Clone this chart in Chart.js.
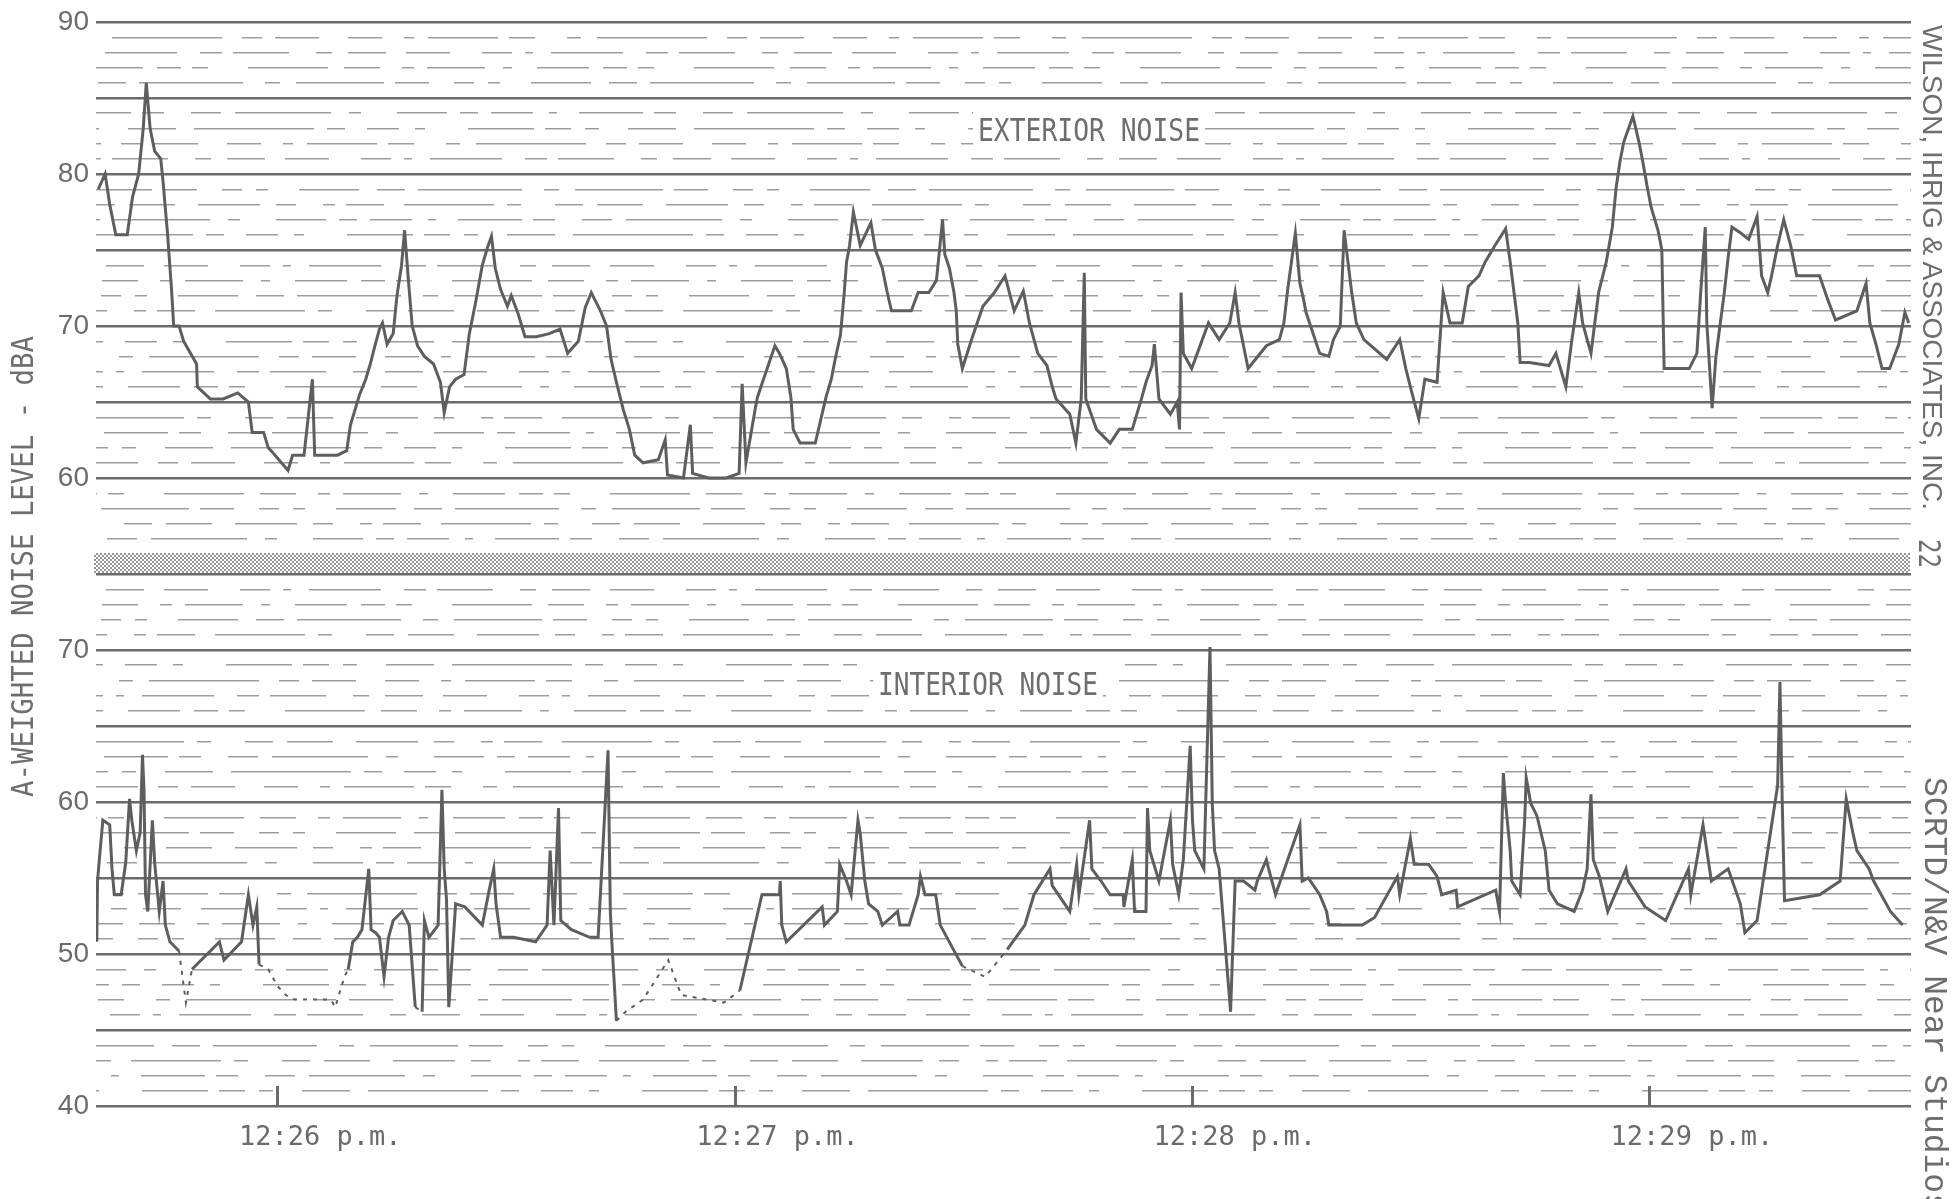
<!DOCTYPE html>
<html>
<head>
<meta charset="utf-8">
<title>A-Weighted Noise Level - Exterior / Interior</title>
<script src="https://cdn.jsdelivr.net/npm/chart.js"></script>
<style>
  html, body { margin: 0; padding: 0; background: #fff; }
  #page { position: relative; width: 1952px; height: 1199px; overflow: hidden; background: #fff; }
  .panel { position: absolute; left: 0; width: 1952px; }
  #extWrap { top: 0; height: 560px; }
  #intWrap { top: 560px; height: 639px; }
  .band {
    position: absolute; left: 94px; top: 553px; width: 1816px; height: 20px;
    background: repeating-conic-gradient(#959595 0 25%, #ffffff 0 50%) 0 0 / 4px 4px;
  }
  .note {
    position: absolute; white-space: nowrap; line-height: 1; color: #6e6e6e;
    transform-origin: 0 0;
  }
  .boxed { background: #fff; box-shadow: 0 0 0 6px #fff; }
</style>
</head>
<body>
<div id="page">
  <div class="panel" id="extWrap"><canvas id="extChart"></canvas></div>
  <div class="band"></div>
  <div class="panel" id="intWrap"><canvas id="intChart"></canvas></div>

  <div class="note" data-rot="-90" data-len="461"
       style="left:8px; top:797px; font-family:'DejaVu Sans Mono'; font-size:30px;">A-WEIGHTED NOISE LEVEL - dBA</div>
  <div class="note" data-rot="90" data-len="485"
       style="left:1946px; top:25px; font-family:'Liberation Sans'; font-size:28px;">WILSON, IHRIG &amp; ASSOCIATES, INC.</div>
  <div class="note" data-rot="90" data-len="29"
       style="left:1944px; top:539px; font-family:'DejaVu Sans Mono'; font-size:30px;">22</div>
  <div class="note" data-rot="90" data-len="436"
       style="left:1950px; top:777px; font-family:'Liberation Mono'; font-size:33px;">SCRTD/N&amp;V Near Studios</div>
  <div class="note boxed" data-rot="0" data-len="222"
       style="left:978px; top:114px; font-family:'DejaVu Sans Mono'; font-size:32px;">EXTERIOR NOISE</div>
  <div class="note boxed" data-rot="0" data-len="220"
       style="left:878px; top:668px; font-family:'DejaVu Sans Mono'; font-size:32px;">INTERIOR NOISE</div>
</div>

<script>
// time axis: seconds after 12:25:00 p.m.
const timeTicks = [60, 120, 180, 240];
const timeLabels = ["12:26 p.m.", "12:27 p.m.", "12:28 p.m.", "12:29 p.m."];
const extLabels = [60, 70, 80, 90];
const intLabels = [40, 50, 60, 70];

// exterior microphone trace (dBA)
const extTime = [
  36.5, 37.4, 38.0, 38.8, 40.3, 41.0, 41.8, 42.4, 42.8, 43.3,
  43.9, 44.7, 45.0, 45.6, 46.1, 46.4, 47.1, 47.7, 48.6, 49.4,
  49.5, 51.2, 52.9, 54.8, 56.2, 56.7, 58.2, 58.8, 59.7, 61.4,
  62.0, 63.5, 64.6, 64.9, 65.8, 67.9, 69.1, 69.6, 70.2, 70.8,
  71.6, 72.2, 72.7, 73.4, 73.8, 74.4, 75.2, 75.7, 76.3, 76.7,
  77.2, 77.7, 78.4, 79.3, 80.5, 81.4, 81.9, 82.6, 83.4, 84.5,
  85.2, 86.0, 86.9, 87.6, 88.1, 88.6, 89.3, 90.2, 90.7, 91.6,
  92.5, 94.0, 95.7, 97.1, 98.1, 99.5, 100.4, 101.2, 102.4, 103.2,
  103.8, 104.5, 105.4, 106.2, 106.9, 108.0, 110.0, 110.9, 111.2, 113.3,
  114.2, 114.5, 116.6, 118.9, 120.6, 121.0, 121.5, 122.7, 123.0, 123.6,
  125.3, 125.9, 126.8, 127.4, 127.7, 128.6, 130.6, 132.0, 132.7, 133.2,
  133.9, 134.1, 134.4, 134.7, 135.1, 135.6, 136.5, 137.9, 138.5, 139.4,
  140.0, 140.6, 141.7, 143.2, 144.1, 145.5, 146.5, 147.3, 147.6, 148.2,
  148.8, 149.1, 149.3, 149.9, 151.1, 152.6, 154.1, 155.5, 156.7, 157.9,
  158.4, 158.7, 159.8, 161.0, 161.7, 162.2, 164.0, 164.8, 165.5, 165.9,
  166.1, 167.5, 169.3, 170.5, 172.2, 173.4, 174.0, 174.8, 175.1, 175.7,
  177.2, 178.1, 178.4, 178.6, 178.9, 180.0, 182.2, 183.6, 185.0, 185.7,
  186.2, 187.4, 189.8, 191.5, 192.1, 192.6, 193.6, 194.2, 194.7, 195.0,
  196.8, 198.0, 198.6, 199.5, 200.0, 201.0, 201.6, 202.6, 205.6, 207.3,
  208.1, 208.9, 209.8, 210.6, 212.2, 213.0, 213.9, 215.5, 216.3, 217.7,
  218.5, 219.8, 221.2, 221.8, 222.3, 222.8, 223.1, 224.3, 226.9, 227.8,
  229.1, 229.9, 230.8, 231.3, 232.4, 232.9, 233.4, 234.4, 235.2, 235.7,
  236.2, 236.7, 237.9, 238.7, 239.2, 239.8, 240.3, 241.2, 241.7, 242.0,
  242.8, 245.3, 246.3, 246.8, 247.4, 247.6, 248.3, 248.8, 249.9, 250.4,
  250.9, 252.1, 253.1, 254.2, 254.8, 255.6, 256.1, 256.9, 257.7, 258.6,
  259.4, 262.4, 263.5, 264.5, 267.3, 268.5, 269.0, 269.8, 270.6, 271.6,
  272.8, 273.6, 274.1
];
const extLevel = [
  79, 80, 78, 76, 76, 78.5, 80, 83, 86, 83,
  81.5, 81, 79.5, 76, 72.5, 70, 70, 69, 68.2, 67.5,
  66, 65.2, 65.2, 65.6, 65, 63, 63, 62, 61.5, 60.5,
  61.5, 61.5, 66.5, 61.5, 61.5, 61.5, 61.8, 63.5, 64.5, 65.5,
  66.5, 67.5, 68.5, 69.8, 70.2, 68.8, 69.5, 72, 74, 76.3,
  73, 70, 68.7, 68, 67.5, 66.3, 64.3, 66, 66.5, 66.8,
  69.5, 71.5, 74, 75.2, 75.9, 73.8, 72.4, 71.3, 72, 70.8,
  69.3, 69.3, 69.5, 69.8, 68.2, 69, 71.2, 72.2, 71, 70,
  67.8, 66.3, 64.5, 63.2, 61.5, 61, 61.2, 62.5, 60.2, 60,
  63.5, 60.3, 60, 60, 60.3, 66.2, 61, 64.5, 65.3, 66.2,
  68.7, 68.2, 67.2, 65.3, 63.2, 62.3, 62.3, 65.3, 66.5, 67.8,
  69.4, 70.5, 72.2, 74.2, 75.3, 77.5, 75.3, 76.8, 75, 73.8,
  72.3, 71, 71, 71, 72.2, 72.2, 73, 77, 74.7, 73.8,
  72.2, 71, 68.8, 67.2, 69.1, 71.3, 72.2, 73.3, 71, 72.3,
  71, 70.2, 68.2, 67.4, 66, 65.2, 64.2, 62.3, 65.2, 73.5,
  65.2, 63.2, 62.3, 63.2, 63.2, 65.2, 66.3, 67.4, 68.8, 65.2,
  64.2, 65, 63.2, 72.2, 68.2, 67.2, 70.2, 69.1, 70.2, 72.2,
  70.2, 67.2, 68.7, 69.1, 70.2, 72.4, 76.1, 72.8, 71.7, 70.9,
  68.2, 68, 69.1, 70, 76.3, 72.2, 70.2, 69.1, 67.8, 69.1,
  67.2, 65.6, 63.9, 66.5, 66.3, 72.2, 70.2, 70.2, 72.6, 73.3,
  74.2, 75.3, 76.4, 74.2, 72.2, 70.2, 67.6, 67.6, 67.4, 68.2,
  66, 69.1, 72.2, 70.2, 68.2, 70.2, 72.2, 74.2, 76.5, 79.1,
  80.8, 82.1, 83.8, 82.1, 80.8, 79.1, 77.8, 76.3, 75, 67.2,
  67.2, 67.2, 68.2, 72.2, 76.5, 70.2, 64.6, 68, 72.2, 74.5,
  76.5, 76.1, 75.7, 77.2, 73.3, 72.2, 73.3, 75.3, 77, 75.3,
  73.3, 73.3, 71.7, 70.4, 71, 72.8, 70.2, 68.8, 67.2, 67.2,
  68.8, 70.9, 70.2
];

// interior microphone trace (dBA)
const intTime = [
  36.3, 36.4, 36.6, 37.1, 38.0, 38.3, 38.6, 39.5, 40.1, 40.6,
  40.9, 41.5, 42.0, 42.3, 42.5, 42.7, 43.0, 43.6, 43.9, 44.5,
  45.0, 45.3, 45.9, 47.1, 48.0, 48.8, 52.4, 53.0, 55.3, 56.2,
  56.8, 57.3, 57.6, 58.8, 60.0, 61.1, 62.3, 64.7, 67.0, 67.6,
  68.8, 69.3, 69.9, 70.5, 71.1, 72.0, 72.3, 72.9, 73.4, 74.0,
  74.6, 75.2, 76.4, 77.3, 78.1, 79.0, 79.3, 79.9, 81.1, 81.6,
  81.9, 82.2, 82.5, 83.4, 84.6, 86.9, 87.8, 88.4, 88.7, 89.3,
  91.0, 93.9, 95.4, 95.8, 96.3, 96.9, 97.2, 98.6, 101.0, 102.1,
  103.4, 103.7, 103.9, 104.5, 105.7, 108.0, 111.3, 113.0, 118.6, 120.7,
  123.6, 125.9, 126.0, 126.2, 126.8, 131.5, 131.8, 133.5, 133.8, 134.7,
  135.3, 136.2, 136.5, 137.1, 137.6, 138.8, 139.4, 141.4, 141.7, 142.9,
  144.1, 144.4, 145.0, 146.4, 147.0, 149.9, 152.9, 155.8, 158.1, 159.3,
  161.4, 161.7, 164.0, 164.9, 165.2, 166.6, 166.9, 168.1, 169.3, 171.0,
  171.1, 172.2, 172.5, 174.0, 174.2, 174.5, 175.7, 177.2, 177.5, 178.3,
  178.9, 179.8, 180.1, 180.4, 181.6, 182.4, 182.7, 183.0, 183.6, 185.1,
  185.7, 186.8, 188.3, 188.6, 189.8, 190.1, 191.0, 194.2, 194.5, 195.3,
  196.8, 197.7, 198.0, 202.4, 204.0, 207.0, 207.3, 208.7, 209.2, 211.1,
  212.2, 212.8, 214.7, 214.9, 219.9, 220.4, 220.9, 221.2, 221.8, 222.0,
  223.1, 223.7, 223.9, 224.5, 225.3, 226.4, 226.9, 228.0, 230.2, 231.3,
  231.9, 232.4, 232.7, 233.5, 234.6, 237.0, 237.3, 239.5, 242.2, 245.2,
  245.5, 247.1, 248.2, 250.4, 252.0, 252.6, 254.2, 256.9, 257.2, 257.5,
  257.8, 262.4, 265.1, 265.9, 266.8, 267.3, 268.9, 269.5, 271.7, 273.3
];
const intLevel = [
  50.8, 54.8, 56, 58.8, 58.5, 55.6, 53.9, 53.9, 56, 60.2,
  58.8, 56.8, 58, 63.1, 60.8, 53.9, 52.8, 58.8, 56, 52.8,
  54.8, 51.9, 50.8, 50.2, 46.8, 49, 50.8, 49.6, 50.8, 53.9,
  51.9, 53.1, 49.3, 49, 47.9, 47.3, 47, 47, 47, 46.5,
  48.5, 49, 50.8, 51.1, 51.6, 55.6, 51.6, 51.4, 51.1, 48.5,
  51.1, 52.2, 52.8, 51.9, 46.5, 46.2, 52.2, 51.1, 51.9, 60.8,
  55.6, 53.6, 46.5, 53.3, 53.1, 51.9, 54.2, 55.6, 53.3, 51.1,
  51.1, 50.8, 51.9, 56.8, 51.9, 59.6, 52.2, 51.6, 51.1, 51.1,
  63.4, 52.8, 50.8, 45.6, 46.2, 47, 49.6, 47.3, 46.8, 47.6,
  53.9, 53.9, 54.8, 51.9, 50.8, 53.1, 51.9, 52.8, 55.9, 54.8,
  53.9, 58.8, 57.9, 54.8, 53.3, 52.8, 51.9, 52.8, 51.9, 51.9,
  53.9, 55.1, 53.9, 53.9, 51.9, 49.2, 48.5, 50.3, 51.9, 53.9,
  55.6, 54.5, 52.8, 55.9, 53.9, 58.8, 55.6, 54.8, 53.9, 53.9,
  53.1, 56.2, 52.8, 52.8, 59.6, 56.8, 54.8, 58.8, 55.9, 53.9,
  56.2, 63.7, 58.8, 56.8, 55.6, 70.2, 59.9, 56.8, 55.6, 46.2,
  54.8, 54.8, 54.2, 54.8, 56.2, 55.6, 53.9, 58.5, 54.8, 55,
  53.9, 52.8, 51.9, 51.9, 52.4, 55.1, 53.9, 57.6, 55.9, 55.9,
  55.1, 53.9, 54.2, 53.1, 54.2, 52.8, 61.9, 59.9, 56.8, 54.8,
  53.9, 58.8, 61.6, 59.9, 59.1, 56.8, 54.2, 53.3, 52.8, 54.2,
  55.6, 60.5, 56.2, 55.1, 52.8, 55.6, 54.8, 53.1, 52.2, 55.6,
  53.9, 58.5, 54.8, 55.6, 53.3, 51.4, 52.2, 61.1, 67.9, 60,
  53.5, 53.9, 54.8, 60.2, 57.9, 56.8, 55.6, 54.8, 52.8, 51.9
];

const xMin = 36.2;
const xMax = 274.4;

const ink = "#6b6b6b";
const penInk = "#5e5e5e";
const paperMinor = "#9d9d9d";

// broken look of the printed 1 dB rulings (dash, gap, dash, gap ...)
const dashPatterns = [
  [18, 13, 42, 16, 8, 22, 64, 11, 22, 27, 30, 14, 96, 18, 12, 36, 50, 13],
  [34, 22, 10, 14, 70, 11, 26, 32, 14, 16, 110, 20, 20, 13, 44, 29],
  [9, 25, 52, 14, 24, 11, 16, 40, 80, 16, 36, 22, 12, 13, 58, 18],
  [62, 16, 20, 27, 12, 11, 38, 20, 90, 13, 14, 34, 28, 14, 46, 23],
  [26, 14, 14, 29, 48, 18, 120, 13, 18, 22, 32, 16, 10, 43, 66, 11],
  [44, 32, 30, 13, 8, 18, 72, 23, 22, 11, 56, 27, 16, 16, 38, 20],
  [15, 16, 88, 11, 34, 25, 20, 14, 12, 31, 60, 18, 28, 13, 104, 22]
];

function pairs(xs, ys) {
  const n = Math.min(xs.length, ys.length);
  const out = [];
  for (let i = 0; i < n; i++) out.push({ x: xs[i], y: ys[i] });
  return out;
}

function paperAxis(lo, hi, labelled, hidden) {
  return {
    type: "linear",
    min: lo,
    max: hi,
    afterBuildTicks: scale => {
      const t = [];
      for (let v = lo; v <= hi; v++) t.push({ value: v });
      scale.ticks = t;
    },
    afterFit: scale => {
      scale.width = 96;
      scale.paddingTop = 0;
      scale.paddingBottom = 0;
    },
    ticks: {
      autoSkip: false,
      padding: 7,
      color: ink,
      font: { family: '"Liberation Sans", Arial, sans-serif', size: 28 },
      callback: v => (labelled.includes(v) ? String(v) : "")
    },
    grid: {
      drawTicks: false,
      color: ctx => {
        const v = ctx.tick ? ctx.tick.value : 0;
        if (v === hidden) return "rgba(0,0,0,0)";
        return v % 5 === 0 ? ink : paperMinor;
      },
      lineWidth: ctx => (ctx.tick && ctx.tick.value % 5 === 0 ? 2.6 : 1.4)
    },
    border: {
      display: false,
      dash: ctx => (ctx.tick && ctx.tick.value % 5 !== 0
        ? dashPatterns[(ctx.tick.value * 3) % dashPatterns.length] : []),
      dashOffset: ctx => (ctx.tick ? (ctx.tick.value * 97) % 400 : 0)
    }
  };
}

const baseOptions = {
  responsive: true,
  maintainAspectRatio: false,
  animation: false,
  events: [],
  plugins: { legend: { display: false }, tooltip: { enabled: false } }
};

// short upward tick marks on the time axis
const timeMarks = {
  id: "timeMarks",
  afterDatasetsDraw(chart) {
    const { ctx, chartArea, scales } = chart;
    ctx.save();
    ctx.strokeStyle = ink;
    ctx.lineWidth = 3;
    scales.x.ticks.forEach(t => {
      const px = Math.round(scales.x.getPixelForValue(t.value)) + 0.5;
      ctx.beginPath();
      ctx.moveTo(px, chartArea.bottom + 1);
      ctx.lineTo(px, chartArea.bottom - 20);
      ctx.stroke();
    });
    ctx.restore();
  }
};

new Chart(document.getElementById("extChart"), {
  type: "line",
  data: {
    datasets: [{
      label: "Exterior noise",
      data: pairs(extTime, extLevel),
      borderColor: penInk,
      borderWidth: 3,
      pointRadius: 0,
      tension: 0
    }]
  },
  options: {
    ...baseOptions,
    layout: { padding: { top: 22, right: 41, bottom: 6, left: 0 } },
    scales: {
      x: { type: "linear", min: xMin, max: xMax, display: false },
      y: paperAxis(55, 90, extLabels, 55)
    }
  }
});

new Chart(document.getElementById("intChart"), {
  type: "line",
  data: {
    datasets: [{
      label: "Interior noise",
      data: pairs(intTime, intLevel),
      borderColor: penInk,
      borderWidth: 3,
      pointRadius: 0,
      tension: 0,
      segment: {
        // the pen barely marks the paper down near the floor
        borderDash: c => (c.p0.parsed.y < 50.5 && c.p1.parsed.y < 50.5 ? [4, 6] : undefined),
        borderWidth: c => (c.p0.parsed.y < 50.5 && c.p1.parsed.y < 50.5 ? 2 : undefined)
      }
    }]
  },
  options: {
    ...baseOptions,
    layout: { padding: { top: 14, right: 41, bottom: 0, left: 0 } },
    scales: {
      x: {
        type: "linear",
        min: xMin,
        max: xMax,
        afterBuildTicks: scale => {
          scale.ticks = timeTicks.map(v => ({ value: v }));
        },
        afterFit: scale => {
          scale.height = 93;
          scale.paddingLeft = 0;
          scale.paddingRight = 0;
        },
        grid: { display: false, drawTicks: false },
        border: { display: false },
        ticks: {
          autoSkip: false,
          maxRotation: 0,
          padding: 16,
          labelOffset: 43,
          color: ink,
          font: { family: '"DejaVu Sans Mono", monospace', size: 27 },
          callback: v => {
            const i = timeTicks.indexOf(v);
            return i >= 0 ? timeLabels[i] : "";
          }
        }
      },
      y: paperAxis(40, 75, intLabels, null)
    }
  },
  plugins: [timeMarks]
});

// squeeze the typed captions to their printed lengths
document.querySelectorAll(".note").forEach(el => {
  const rot = Number(el.dataset.rot) || 0;
  const len = Number(el.dataset.len);
  const w = el.getBoundingClientRect().width;
  el.style.transform = `rotate(${rot}deg) scaleX(${len / w})`;
});
</script>
</body>
</html>
